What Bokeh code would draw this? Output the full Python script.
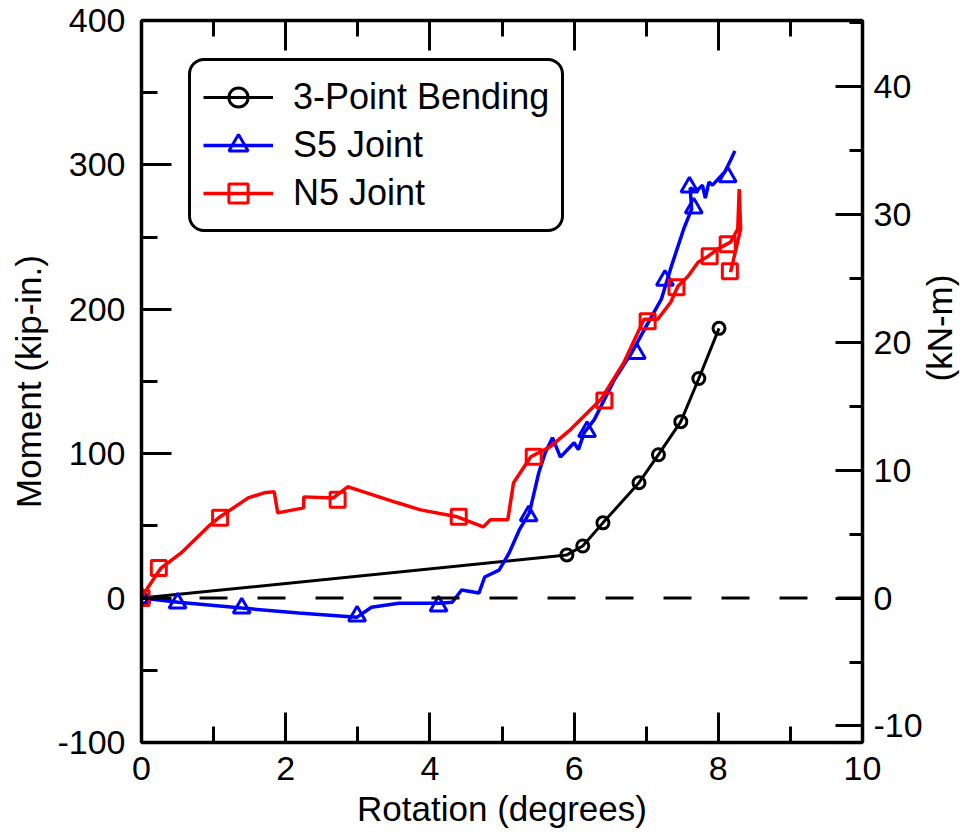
import math
from bokeh.plotting import figure
from bokeh.models import (Range1d, LinearAxis, SingleIntervalTicker, Legend,
                          LegendItem, Span, NumeralTickFormatter,
                          CustomJSTickFormatter)
from bokeh.embed import file_html
from bokeh.resources import INLINE

# ---------------- data ----------------
KIPIN_TO_KNM = 0.11298

bend_x = [0.0, 5.90, 6.12, 6.40, 6.90, 7.17, 7.48, 7.73, 8.01]
bend_y = [0.0, 29.9, 36.1, 52.1, 79.9, 99.3, 122.2, 152.1, 186.8]

s5_x = [0.0, 0.51, 1.39, 2.18, 2.99, 3.19, 3.57, 4.13, 4.31, 4.44, 4.68, 4.76,
        4.96, 5.10, 5.24, 5.38, 5.51, 5.60, 5.70, 5.81, 6.00, 6.06, 6.14, 6.28,
        6.56, 6.80, 7.03, 7.21, 7.35, 7.52, 7.63, 7.61, 7.70, 7.78, 7.82, 7.87,
        7.92, 8.00, 8.09, 8.18, 8.23]
s5_y = [0.0, -2.8, -6.9, -10.4, -13.2, -6.3, -3.5, -3.5, -2.8, 5.6, 3.5, 14.6,
        19.4, 31.3, 47.2, 59.0, 86.8, 100.7, 111.1, 97.6, 107.6, 102.8, 114.6, 123.6,
        151.4, 170.1, 191.0, 207.0, 229.9, 255.6, 269.4, 284.0, 282.0, 286.0, 277.0, 288.0,
        286.0, 290.3, 295.1, 304.2, 309.7]
s5_mx = [0.0, 0.50, 1.39, 2.99, 4.12, 5.37, 6.18, 6.87, 7.26, 7.66, 7.60, 8.13]
s5_my = [0.0, -3.5, -6.9, -12.5, -5.6, 57.0, 115.3, 169.4, 220.1, 270.1, 284.7, 291.7]

n5_x = [0.0, 0.27, 0.55, 0.92, 1.07, 1.48, 1.70, 1.84, 1.89, 2.25, 2.25, 2.66,
        2.86, 3.08, 3.55, 3.87, 4.38, 4.74, 4.84, 5.08, 5.16, 5.40, 5.67, 5.95,
        6.37, 6.69, 6.97, 7.16, 7.34, 7.44, 7.58, 7.72, 7.86, 7.99, 8.17, 8.27,
        8.29, 8.31, 8.17]
n5_y = [0.7, 20.8, 31.3, 49.3, 55.6, 69.4, 72.9, 73.6, 59.0, 62.5, 70.1, 69.4,
        77.1, 73.6, 66.0, 61.1, 56.3, 49.3, 54.2, 54.2, 79.9, 97.9, 104.9, 116.7,
        137.5, 163.2, 193.1, 193.1, 204.9, 216.0, 222.9, 232.6, 236.8, 241.7, 246.5, 255.6,
        283.3, 255.6, 225.7]
n5_mx = [0.0, 0.24, 1.09, 2.72, 4.40, 5.44, 6.42, 7.02, 7.42, 7.88, 8.13, 8.16]
n5_my = [0.0, 20.8, 55.6, 68.1, 56.3, 97.9, 136.8, 191.7, 215.3, 236.8, 245.1, 226.4]

x_lo, x_hi = 0, 10
y_lo, y_hi = -100, 400

FONT = "Liberation Sans"

p = figure(frame_width=721, frame_height=722,
           min_border_left=141, min_border_right=114,
           min_border_top=20, min_border_bottom=96,
           x_range=Range1d(x_lo, x_hi), y_range=Range1d(y_lo, y_hi),
           x_axis_location=None, y_axis_location=None,
           output_backend="svg", toolbar_location=None)
p.extra_y_ranges = {"kn": Range1d(y_lo * KIPIN_TO_KNM, y_hi * KIPIN_TO_KNM)}
p.xgrid.visible = False
p.ygrid.visible = False
p.outline_line_color = "black"
p.outline_line_width = 3
p.background_fill_color = "white"
p.border_fill_color = "white"


def style(ax, major_in, minor_in, standoff):
    ax.axis_line_width = 3.5
    ax.axis_line_color = "black"
    ax.major_tick_in = major_in
    ax.major_tick_out = 0
    ax.minor_tick_in = minor_in
    ax.minor_tick_out = 0
    ax.major_tick_line_width = 3
    ax.minor_tick_line_width = 3
    ax.major_tick_line_color = "black"
    ax.minor_tick_line_color = "black"
    ax.major_label_text_font = FONT
    ax.major_label_text_font_size = "34px"
    ax.major_label_text_color = "black"
    ax.major_label_standoff = standoff
    ax.axis_label_text_font = FONT
    ax.axis_label_text_font_size = "35px"
    ax.axis_label_text_font_style = "normal"
    ax.axis_label_text_color = "black"
    ax.axis_label_standoff = 6
    ax.formatter = NumeralTickFormatter(format="0")


bottom = LinearAxis(ticker=SingleIntervalTicker(interval=2, num_minor_ticks=2),
                    axis_label="Rotation (degrees)")
style(bottom, 30, 16, 14)
p.add_layout(bottom, "below")

top = LinearAxis(ticker=SingleIntervalTicker(interval=2, num_minor_ticks=2))
style(top, 30, 16, 0)
top.formatter = CustomJSTickFormatter(code="return ''")
top.major_label_text_font_size = "1px"
p.add_layout(top, "above")

left = LinearAxis(ticker=SingleIntervalTicker(interval=100, num_minor_ticks=2),
                  axis_label="Moment (kip-in.)")
style(left, 30, 16, 16)
p.add_layout(left, "left")

right = LinearAxis(y_range_name="kn",
                   ticker=SingleIntervalTicker(interval=10, num_minor_ticks=2),
                   axis_label="(kN-m)")
style(right, 27, 13, 11)
right.axis_label_standoff = 14
if "axis_label_orientation" in LinearAxis.properties():
    right.axis_label_orientation = math.pi / 2
p.add_layout(right, "right")

zero = Span(location=0, dimension="width", line_color="black", line_width=3,
            line_dash="28 30")
p.add_layout(zero)

bl = p.line(bend_x, bend_y, line_color="black", line_width=3)
bs = p.scatter(bend_x, bend_y, marker="circle", size=12, fill_color=None,
               line_color="black", line_width=3)

sl = p.line(s5_x, s5_y, line_color="#0000ff", line_width=3.5)
ss = p.scatter(s5_mx, s5_my, marker="triangle", size=17, fill_color=None,
               line_color="#0000ff", line_width=3)

nl = p.line(n5_x, n5_y, line_color="#ff0000", line_width=3.5)
ns = p.scatter(n5_mx, n5_my, marker="square", size=15, fill_color=None,
               line_color="#ff0000", line_width=3)

legend = Legend(items=[LegendItem(label="3-Point Bending", renderers=[bl, bs]),
                       LegendItem(label="S5 Joint", renderers=[sl, ss]),
                       LegendItem(label="N5 Joint", renderers=[nl, ns])],
                location=(47, 510), margin=0, padding=12, spacing=0,
                glyph_width=70, glyph_height=48, label_height=48,
                label_standoff=20, label_text_font=FONT,
                label_text_font_size="36px", label_text_color="black",
                border_line_color="black", border_line_width=3.5,
                border_line_alpha=1,
                background_fill_color="white", background_fill_alpha=1)
if "border_radius" in Legend.properties():
    legend.border_radius = 16
p.add_layout(legend)

open("out.html", "w").write(file_html(p, INLINE))
